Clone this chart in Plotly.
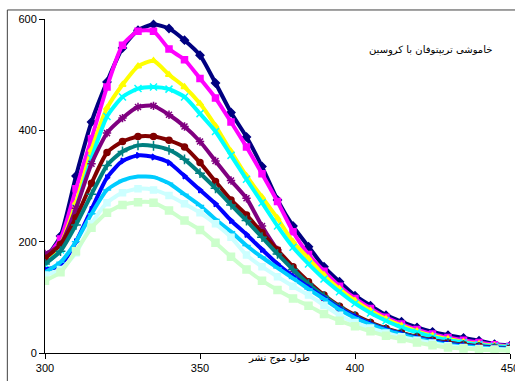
import plotly.graph_objects as go

wavelength = list(range(300, 451, 5))

s1_navy = [168, 210, 318, 415, 487, 548, 580, 590, 583, 562, 535, 485, 432, 388, 335, 275, 228, 191, 155, 128, 103, 85, 68, 56, 46, 38, 32, 27, 22, 16, 13]
s2_magenta = [170, 205, 295, 385, 478, 553, 578, 578, 546, 527, 493, 458, 415, 370, 322, 272, 218, 177, 147, 120, 98, 80, 64, 52, 42, 34, 28, 23, 19, 15, 12]
s3_yellow = [165, 195, 270, 365, 440, 482, 515, 525, 500, 478, 448, 408, 362, 318, 280, 242, 200, 170, 140, 115, 94, 76, 61, 49, 39, 31, 25, 20, 16, 13, 11]
s4_cyan = [160, 185, 260, 350, 425, 460, 475, 478, 474, 460, 430, 398, 355, 312, 270, 228, 190, 160, 133, 110, 89, 72, 58, 46, 37, 29, 23, 19, 15, 12, 11]
s5_purple = [178, 195, 260, 340, 395, 422, 442, 444, 428, 407, 380, 345, 310, 278, 228, 185, 150, 122, 98, 80, 66, 53, 43, 35, 28, 23, 19, 15, 12, 10, 9]
s6_maroon = [170, 195, 243, 305, 360, 380, 389, 389, 382, 370, 342, 308, 275, 248, 216, 185, 155, 128, 104, 84, 68, 55, 44, 36, 29, 23, 18, 15, 12, 9, 8]
s7_teal = [160, 183, 230, 285, 337, 362, 373, 372, 365, 348, 323, 296, 266, 238, 208, 178, 150, 124, 102, 82, 66, 53, 43, 35, 28, 22, 17, 14, 11, 9, 8]
s8_blue = [150, 157, 200, 258, 315, 345, 355, 352, 342, 318, 293, 268, 238, 213, 186, 160, 138, 118, 99, 80, 65, 52, 42, 34, 27, 21, 16, 13, 11, 9, 7]
s9_skyblue = [145, 163, 200, 250, 293, 310, 317, 316, 305, 285, 265, 240, 218, 193, 172, 153, 134, 115, 97, 78, 63, 51, 41, 33, 26, 20, 15, 12, 10, 8, 7]
s10_lightcyan = [140, 150, 180, 232, 270, 288, 295, 293, 283, 268, 252, 232, 208, 176, 155, 137, 120, 104, 86, 68, 55, 45, 36, 29, 23, 18, 13, 10, 8, 7, 6]
s11_lightgreen = [130, 145, 183, 225, 252, 266, 271, 270, 256, 238, 221, 198, 173, 150, 130, 113, 98, 85, 70, 58, 48, 39, 31, 25, 19, 14, 10, 8, 6, 5, 4]

series = [s1_navy, s2_magenta, s3_yellow, s4_cyan, s5_purple, s6_maroon,
          s7_teal, s8_blue, s9_skyblue, s10_lightcyan, s11_lightgreen]
colors = ["#000080", "#FF00FF", "#FFFF00", "#00FFFF", "#800080", "#800000",
          "#008080", "#0000FF", "#00CCFF", "#CCFFFF", "#CCFFCC"]
symbols = ["diamond", "square", "triangle-up", "x-thin-open", "asterisk-open", "circle",
           "cross-thin-open", "triangle-right", "line-ew-open", "square", "square"]
sizes = [6, 6, 6, 7, 7, 6, 7, 5, 6, 6, 7]

x_ticks = [300, 350, 400, 450]
y_ticks = [0, 200, 400, 600]
title_text = "خاموشی تریپتوفان با کروسین"
x_title = "طول موج نشر"

fig = go.Figure()
for vals, c, sym, sz in zip(series, colors, symbols, sizes):
    fig.add_trace(go.Scatter(
        x=wavelength, y=vals, mode="lines+markers",
        line=dict(color=c, width=4, shape="spline", smoothing=0.6),
        marker=dict(color=c, symbol=sym, size=sz, line=dict(color=c, width=1.5)),
        showlegend=False, hoverinfo="skip"))

fig.update_layout(
    width=515, height=381,
    margin=dict(l=45, r=5, t=19, b=28),
    paper_bgcolor="white", plot_bgcolor="white",
    font=dict(family="Liberation Sans, Arial, sans-serif", size=11, color="black"),
    xaxis=dict(range=[300, 450], tickvals=x_ticks, showgrid=False, zeroline=False,
               showline=True, linecolor="black", linewidth=1, automargin=False,
               ticklabeloverflow="allow",
               ticks="outside", ticklen=5, tickcolor="black"),
    yaxis=dict(range=[0, 600], tickvals=y_ticks, showgrid=False, zeroline=False,
               showline=True, linecolor="black", linewidth=1, automargin=False,
               ticklabeloverflow="allow",
               ticks="outside", ticklen=5, tickcolor="black"),
    shapes=[dict(type="rect", xref="paper", yref="paper",
                 x0=-0.081, x1=1.02, y0=-0.09, y1=1.027,
                 line=dict(color="#404040", width=1), fillcolor="rgba(0,0,0,0)",
                 layer="below")],
    annotations=[
        dict(text=title_text, xref="paper", yref="paper", x=0.83, y=0.907,
             xanchor="center", yanchor="middle",
             showarrow=False, font=dict(family="DejaVu Sans", size=10, color="black")),
        dict(text=x_title, xref="paper", yref="paper", x=0.503, y=-0.014,
             xanchor="center", yanchor="middle",
             showarrow=False, font=dict(family="DejaVu Sans", size=10, color="black")),
    ],
)

fig.write_html("out.html", config={"displayModeBar": False},
               post_script="document.body.style.margin='0';")
